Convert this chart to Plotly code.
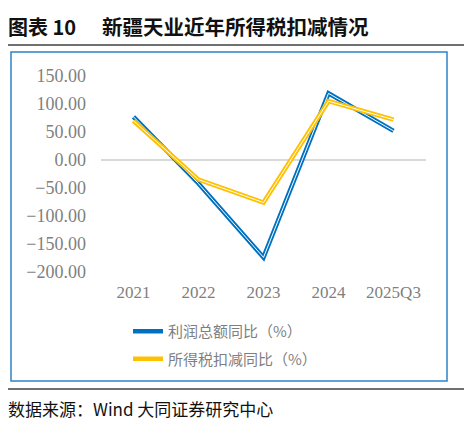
import plotly.graph_objects as go

# data
categories = ["2021", "2022", "2023", "2024", "2025Q3"]
profit_yoy = [77, -42, -174, 119, 52]
tax_deduct_yoy = [70, -35, -76, 105, 72]
profit_name = "利润总额同比（%）"
tax_name = "所得税扣减同比（%）"

blue = "#0070C0"
gold = "#FFC000"
cjk = "Noto Sans CJK SC"

# page draws the figure 8px in from the corner, so work in reference px minus 8
OFF = 8
W, H = 472 - OFF, 423 - OFF
PL, PR, PT, PB = 101 - OFF, 426 - OFF, 76 - OFF, 272 - OFF

fig = go.Figure()
for vals, name, color in [(profit_yoy, profit_name, blue), (tax_deduct_yoy, tax_name, gold)]:
    fig.add_trace(go.Scatter(x=categories, y=vals, mode="lines", name=name, legendgroup=name,
                             line=dict(color=color, width=4.5)))
    # thin white core to imitate the double-line style
    fig.add_trace(go.Scatter(x=categories, y=vals, mode="lines", showlegend=False, legendgroup=name,
                             hoverinfo="skip", line=dict(color="white", width=1)))


def px(x):
    return (x - OFF - PL) / float(PR - PL)


def py(y):
    return (PB - (y - OFF)) / float(PB - PT)


shapes = [
    # chart frame
    dict(type="rect", xref="paper", yref="paper", x0=px(11), x1=px(447), y0=py(52), y1=py(381),
         line=dict(color="#2E83C8", width=1.5), layer="below"),
    # rules
    dict(type="line", xref="paper", yref="paper", x0=px(1), x1=px(467), y0=py(6), y1=py(6),
         line=dict(color="#404040", width=1.5)),
    dict(type="line", xref="paper", yref="paper", x0=px(1), x1=px(467), y0=py(45), y1=py(45),
         line=dict(color="#404040", width=1.5)),
    dict(type="line", xref="paper", yref="paper", x0=px(1), x1=px(467), y0=py(389), y1=py(389),
         line=dict(color="#404040", width=1.5)),
]

annotations = [
    dict(text="<b>图表 10</b>", xref="paper", yref="paper",
         x=px(6), y=py(26), xanchor="left", yanchor="middle", showarrow=False,
         font=dict(family=cjk, size=20, color="#111111")),
    dict(text="<b>新疆天业近年所得税扣减情况</b>", xref="paper", yref="paper",
         x=px(100), y=py(26), xanchor="left", yanchor="middle", showarrow=False,
         font=dict(family=cjk, size=20.5, color="#111111")),
    dict(text="数据来源：Wind 大同证券研究中心", xref="paper", yref="paper",
         x=px(6), y=py(408), xanchor="left", yanchor="middle", showarrow=False,
         font=dict(family=cjk, size=17, color="#111111")),
]

fig.update_layout(
    width=W, height=H,
    margin=dict(l=PL, r=W - PR, t=PT, b=H - PB),
    paper_bgcolor="white", plot_bgcolor="white",
    shapes=shapes, annotations=annotations,
    showlegend=True,
    legend=dict(x=px(128), y=py(315), xanchor="left", yanchor="top",
                font=dict(family=cjk, size=15, color="#7F7F7F"),
                bgcolor="rgba(0,0,0,0)", tracegroupgap=5),
    xaxis=dict(type="category", range=[-0.5, 4.5], showgrid=False, zeroline=False,
               showline=False, ticks="", ticklabelstandoff=8,
               tickfont=dict(family="Liberation Serif", size=17, color="#7F7F7F")),
    yaxis=dict(range=[-200, 150], dtick=50, tickformat=".2f", showgrid=False,
               zeroline=True, zerolinecolor="#D9D9D9", zerolinewidth=1.5,
               showline=False, ticks="", ticklabelstandoff=14,
               tickfont=dict(family="Liberation Serif", size=18, color="#7F7F7F")),
)

fig.write_html("out.html")
